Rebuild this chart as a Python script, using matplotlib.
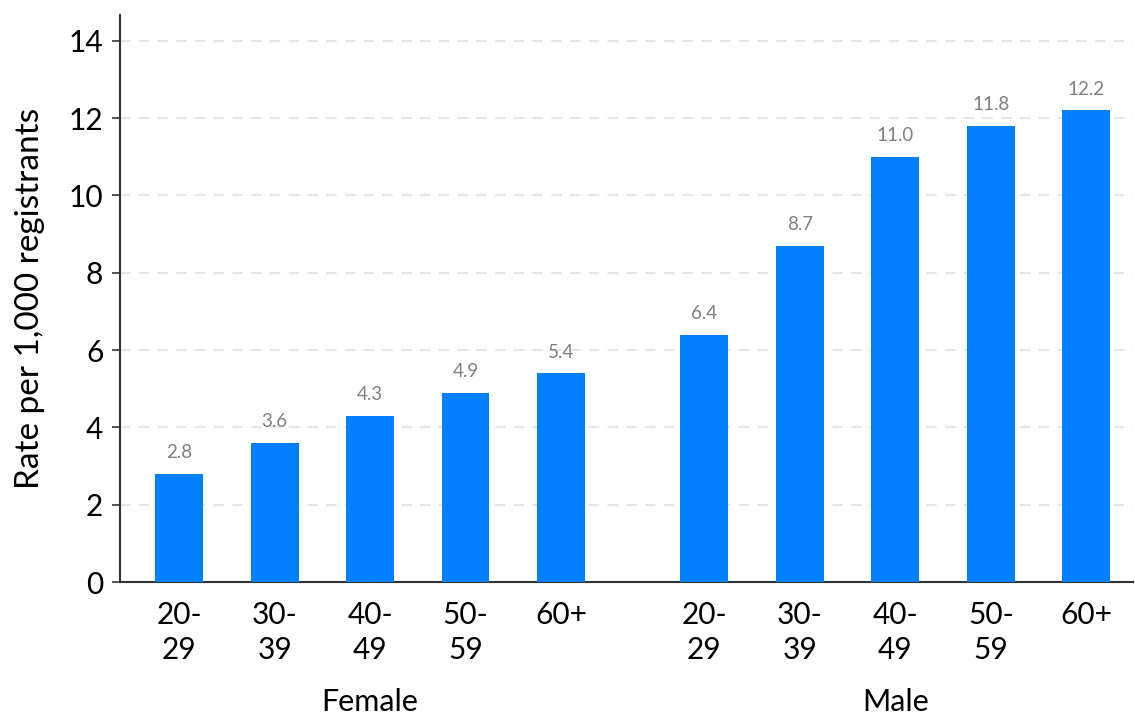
import matplotlib
matplotlib.use("Agg")
import matplotlib.pyplot as plt
import numpy as np

plt.rcParams['font.family'] = ['Lato', 'DejaVu Sans']

groups = ["Female", "Male"]
age_bands = ["20-\n29", "30-\n39", "40-\n49", "50-\n59", "60+"]
female_rates = [2.8, 3.6, 4.3, 4.9, 5.4]
male_rates = [6.4, 8.7, 11.0, 11.8, 12.2]
yticks = [0, 2, 4, 6, 8, 10, 12, 14]

bar_color = "#007FFF"
label_color = "#808080"

fig = plt.figure(figsize=(11.35, 7.18), dpi=100)
ax = fig.add_axes([120 / 1135, (718 - 582) / 718, (1133 - 120) / 1135, (582 - 15) / 718])

n = len(age_bands)
pos_f = np.arange(n)
pos_m = np.arange(n) + n + 0.5
positions = np.concatenate([pos_f, pos_m])
values = female_rates + male_rates

ax.bar(positions, values, width=0.5, color=bar_color, zorder=3)
for x, v in zip(positions, values):
    ax.text(x, v + 0.33, f"{v:.1f}", ha="center", va="bottom",
            fontsize=13.5, color=label_color)

ax.set_xlim(-0.62, 9.99)
ax.set_ylim(0, 14.67)
ax.set_yticks(yticks)
ax.tick_params(axis="y", labelsize=21.5, length=6, width=1.2, color="#333333", pad=6)
ax.set_xticks(positions)
ax.set_xticklabels(age_bands * 2, fontsize=21.5, linespacing=1.3)
ax.tick_params(axis="x", length=0, pad=14)

for y in yticks[1:]:
    ax.axhline(y, color="#e6e6e6", lw=1.5, ls=(0, (5, 4)), zorder=1)

for s in ["top", "right"]:
    ax.spines[s].set_visible(False)
for s in ["left", "bottom"]:
    ax.spines[s].set_color("#333333")
    ax.spines[s].set_linewidth(1.5)

ax.set_ylabel("Rate per 1,000 registrants", fontsize=24, labelpad=17)

for name, center in zip(groups, [pos_f.mean(), pos_m.mean()]):
    ax.annotate(name, xy=(center, 0), xycoords=("data", "figure pixels"),
                xytext=(0, 2), textcoords="offset pixels",
                ha="center", va="bottom", fontsize=22)

fig.savefig("out.png", dpi=100)
